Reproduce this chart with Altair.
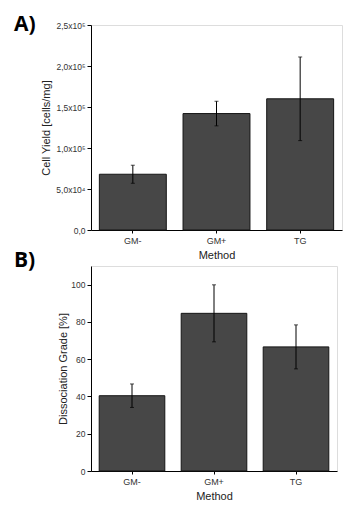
import altair as alt
import pandas as pd

methods = ["GM-", "GM+", "TG"]
cell_yield = [68000, 142000, 160000]
cell_yield_err = [11000, 15000, 51000]
dissociation = [40.4, 84.6, 66.6]
dissociation_err = [6.3, 15.3, 11.8]
letters = ["A)", "B)"]

yield_ticks = [v * 12500 for v in range(0, 21)]
diss_ticks = [v * 10 for v in range(0, 11)]

FONT = "Liberation Sans"


def panel(values, errs, letter, ytitle, domain, ticks, major, label_expr, width, height, title_pad):
    df = pd.DataFrame({
        "Method": methods,
        "value": values,
        "lo": [v - e for v, e in zip(values, errs)],
        "hi": [v + e for v, e in zip(values, errs)],
    })
    x = alt.X("Method:N", sort=methods,
              scale=alt.Scale(paddingInner=0.2, paddingOuter=0.1),
              axis=alt.Axis(title="Method", labelAngle=0, tickSize=3,
                            domainColor="black", tickColor="black",
                            labelColor="#333", labelFontSize=9, labelFont=FONT,
                            titleFont=FONT, titleFontSize=11, titleFontWeight="normal",
                            titleColor="#222", labelPadding=3, titlePadding=4))
    yscale = alt.Scale(domain=domain, nice=False, zero=True)
    yaxis = alt.Axis(title=ytitle, values=ticks, labelExpr=label_expr,
                     tickSize={"condition": {"test": f"datum.value % {major} === 0", "value": 4}, "value": 2},
                     grid=False, domainColor="black", tickColor="black",
                     labelColor="#333", labelFontSize=8.5, labelFont=FONT,
                     labelOverlap=False, labelPadding=2,
                     titleFont=FONT, titleFontSize=11, titleFontWeight="normal",
                     titleColor="#222", titlePadding=title_pad)
    bars = alt.Chart(df).mark_bar(fill="#474747", stroke="#151515", strokeWidth=1).encode(
        x=x, y=alt.Y("value:Q", scale=yscale, axis=yaxis))
    rule = alt.Chart(df).mark_rule(color="black", strokeWidth=1).encode(
        x=alt.X("Method:N", sort=methods), y="lo:Q", y2="hi:Q")
    cap_hi = alt.Chart(df).mark_tick(color="black", thickness=1, size=4, orient="horizontal").encode(
        x=alt.X("Method:N", sort=methods), y="hi:Q")
    cap_lo = alt.Chart(df).mark_tick(color="black", thickness=1, size=4, orient="horizontal").encode(
        x=alt.X("Method:N", sort=methods), y="lo:Q")
    lab = alt.Chart(pd.DataFrame({"t": [letter]})).mark_text(
        font="Open Sans", fontWeight="bold", fontSize=21, align="left", baseline="middle", color="black"
    ).encode(text="t:N", x=alt.value(-77), y=alt.value(0 if letter == "A)" else -5))
    return alt.layer(bars, rule, cap_hi, cap_lo, lab).properties(width=width, height=height)


yield_expr = ("datum.value == 0 ? '0,0' : (datum.value % 50000 != 0 ? '' : "
              "(datum.value < 100000 ? replace(format(datum.value/10000, '.1f'), '.', ',') + 'x10\u2074' : "
              "replace(format(datum.value/100000, '.1f'), '.', ',') + 'x10\u2075'))")
diss_expr = "datum.value % 20 == 0 ? format(datum.value, 'd') : ''"

a = panel(cell_yield, cell_yield_err, letters[0], "Cell Yield [cells/mg]", [0, 250000],
          yield_ticks, 50000, yield_expr, 251, 205, 4)
b = panel(dissociation, dissociation_err, letters[1], "Dissociation Grade [%]", [0, 110],
          diss_ticks, 20, diss_expr, 246, 205, 2)

chart = alt.vconcat(a, b, spacing=-12).configure_view(stroke=None).configure(background="white")
chart.save("out.html", embed_options={"renderer": "svg", "actions": False})
